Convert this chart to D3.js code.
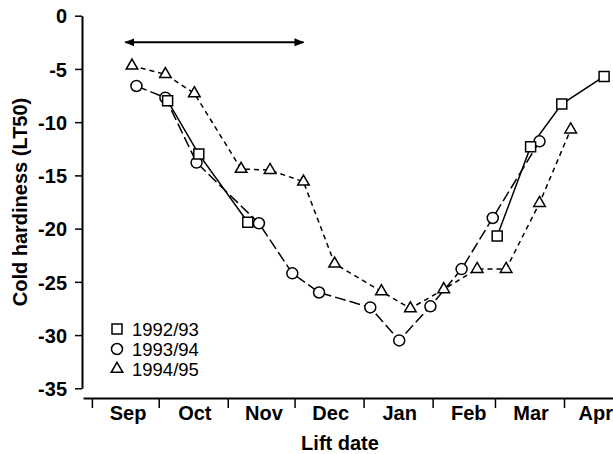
<!DOCTYPE html>
<html lang="en">
<head>
    <meta charset="utf-8">
    <title>Cold hardiness</title>
    <script src="https://d3js.org/d3.v7.min.js"></script>
    <style>
        html, body {
            margin: 0;
            padding: 0;
            background: #fff;
        }
        text {
            font-family: Arial, "Liberation Sans", sans-serif;
        }
        .axis path,
        .axis line {
            fill: none;
            stroke: #000;
        }
        .axis text {
            font-size: 20px;
            font-weight: bold;
            fill: #000;
        }
        path.series {
            fill: none;
            stroke: #000;
            stroke-width: 1.5px;
        }
        .marker {
            fill: #fff;
            stroke: #000;
            stroke-width: 1.5px;
        }
    </style>
</head>
<body>
<script type="text/javascript">

    //Data (month-day of lift, LT50)
    var sq9293Dates = ["10-05", "10-19", "11-10", "03-02", "03-17", "03-31", "04-19"];
    var sq9293Vals = [-8.0, -13.0, -19.4, -20.7, -12.3, -8.3, -5.7];
    var sq9293Segment = [0, 0, 0, 1, 1, 1, 1];

    var ci9394Dates = ["09-21", "10-04", "10-18", "11-15", "11-30", "12-12", "01-04", "01-17", "01-31", "02-14", "02-28", "03-21"];
    var ci9394Vals = [-6.6, -7.7, -13.8, -19.5, -24.2, -26.0, -27.4, -30.5, -27.3, -23.8, -19.0, -11.8];

    var tr9495Dates = ["09-19", "10-04", "10-17", "11-07", "11-20", "12-05", "12-19", "01-09", "01-22", "02-06", "02-21", "03-06", "03-21", "04-04"];
    var tr9495Vals = [-4.7, -5.5, -7.3, -14.4, -14.5, -15.6, -23.3, -25.9, -27.5, -25.7, -23.8, -23.8, -17.6, -10.7];

    var legendLabels = ["1992/93", "1993/94", "1994/95"];

    var monthTicks = ["09-01", "10-01", "11-01", "12-01", "01-01", "02-01", "03-01", "04-01"];
    var monthLabels = ["Sep", "Oct", "Nov", "Dec", "Jan", "Feb", "Mar", "Apr"];
    var monthLabelDates = ["09-17", "10-17", "11-17", "12-17", "01-17", "02-17", "03-17", "04-15"];

    var yTicks = [0, -5, -10, -15, -20, -25, -30, -35];

    //Lifting period arrow
    var arrowDates = ["09-16", "12-05"];
    var arrowVal = -2.5;

    //Width and height
    var w = 613;
    var h = 454;

    //one season: Aug-Dec in 1992, Jan-Apr in 1993
    var parseMD = function(md) {
        var m = +md.split("-")[0];
        var d = +md.split("-")[1];
        return new Date(m >= 8 ? 1992 : 1993, m - 1, d);
    };

    var xScale = d3.scaleTime()
        .domain([parseMD("08-28"), parseMD("04-23")])
        .range([83, 613]);

    var yScale = d3.scaleLinear()
        .domain([-35, 0])
        .range([388.3, 15.7]);

    var svg = d3.select("body")
        .append("svg")
        .attr("width", w)
        .attr("height", h);

    //Y axis (plain hyphen for minus)
    var yAxis = d3.axisLeft(yScale)
        .tickValues(yTicks)
        .tickSize(7)
        .tickSizeOuter(0)
        .tickPadding(8)
        .tickFormat(function(d) { return String(d); });

    var gy = svg.append("g")
        .attr("class", "axis")
        .attr("transform", "translate(82,0)")
        .call(yAxis);
    gy.select(".domain").attr("stroke-width", 2);
    gy.selectAll(".tick line").attr("stroke-width", 1.5);
    gy.selectAll(".tick text").attr("dy", "0.36em");

    //X axis: tick marks at month starts
    var xAxis = d3.axisBottom(xScale)
        .tickValues(monthTicks.map(parseMD))
        .tickSize(10)
        .tickSizeOuter(0)
        .tickFormat("");

    var gx = svg.append("g")
        .attr("class", "axis")
        .attr("transform", "translate(0,398)")
        .call(xAxis);
    gx.select(".domain").attr("stroke-width", 2);
    gx.selectAll(".tick line").attr("stroke-width", 1.5);

    //month names between ticks
    var xLabelAxis = d3.axisBottom(xScale)
        .tickValues(monthLabelDates.map(parseMD))
        .tickSize(0)
        .tickPadding(8)
        .tickFormat(function(d, i) { return monthLabels[i]; });

    var gxl = svg.append("g")
        .attr("class", "axis")
        .attr("transform", "translate(0,398)")
        .call(xLabelAxis);
    gxl.select(".domain").remove();

    //Axis titles
    svg.append("text")
        .attr("x", 340)
        .attr("y", 450)
        .attr("text-anchor", "middle")
        .style("font-size", "20px")
        .style("font-weight", "bold")
        .text("Lift date");

    svg.append("text")
        .attr("transform", "translate(27,202) rotate(-90)")
        .attr("text-anchor", "middle")
        .style("font-size", "20px")
        .style("font-weight", "bold")
        .text("Cold hardiness (LT50)");

    //Arrow
    var defs = svg.append("defs");
    defs.append("marker")
        .attr("id", "head")
        .attr("viewBox", "0 0 10 8")
        .attr("refX", 9)
        .attr("refY", 4)
        .attr("markerWidth", 10)
        .attr("markerHeight", 8)
        .attr("markerUnits", "userSpaceOnUse")
        .attr("orient", "auto-start-reverse")
        .append("path")
        .attr("d", "M0,0 L10,4 L0,8 Z")
        .attr("fill", "#000");

    svg.append("line")
        .attr("x1", xScale(parseMD(arrowDates[0])))
        .attr("x2", xScale(parseMD(arrowDates[1])))
        .attr("y1", yScale(arrowVal))
        .attr("y2", yScale(arrowVal))
        .attr("stroke", "#000")
        .attr("stroke-width", 2)
        .attr("marker-start", "url(#head)")
        .attr("marker-end", "url(#head)");

    //Build series
    var makeData = function(dates, vals) {
        return dates.map(function(d, i) {
            return { date: parseMD(d), value: vals[i] };
        });
    };

    var sqData = makeData(sq9293Dates, sq9293Vals);
    var ciData = makeData(ci9394Dates, ci9394Vals);
    var trData = makeData(tr9495Dates, tr9495Vals);

    var line = d3.line()
        .x(function(d) { return xScale(d.date); })
        .y(function(d) { return yScale(d.value); });

    //1994/95 short dashes
    svg.append("path")
        .datum(trData)
        .attr("class", "series")
        .attr("stroke-dasharray", "5,4")
        .attr("d", line);

    //1993/94 long dashes
    svg.append("path")
        .datum(ciData)
        .attr("class", "series")
        .attr("stroke-dasharray", "11,4")
        .attr("d", line);

    //1992/93 solid, no lift in winter
    [0, 1].forEach(function(s) {
        svg.append("path")
            .datum(sqData.filter(function(d, i) { return sq9293Segment[i] === s; }))
            .attr("class", "series")
            .attr("d", line);
    });

    var symSquare = d3.symbol().type(d3.symbolSquare).size(100);
    var symCircle = d3.symbol().type(d3.symbolCircle).size(95);
    var symTriangle = d3.symbol().type(d3.symbolTriangle).size(58);

    var drawMarkers = function(data, sym) {
        svg.append("g")
            .selectAll("path")
            .data(data)
            .enter()
            .append("path")
            .attr("class", "marker")
            .attr("d", sym)
            .attr("transform", function(d) {
                return "translate(" + xScale(d.date) + "," + yScale(d.value) + ")";
            });
    };

    drawMarkers(trData, symTriangle);
    drawMarkers(ciData, symCircle);
    drawMarkers(sqData, symSquare);

    //Legend
    var legendSyms = [symSquare, symCircle, symTriangle];
    var legend = svg.append("g")
        .attr("transform", "translate(117,329)");

    legendLabels.forEach(function(lab, i) {
        legend.append("path")
            .attr("class", "marker")
            .attr("d", legendSyms[i])
            .attr("transform", "translate(0," + (i * 20) + ")");
        legend.append("text")
            .attr("x", 15)
            .attr("y", i * 20 + 7)
            .style("font-size", "18.5px")
            .text(lab);
    });

</script>
</body>
</html>
